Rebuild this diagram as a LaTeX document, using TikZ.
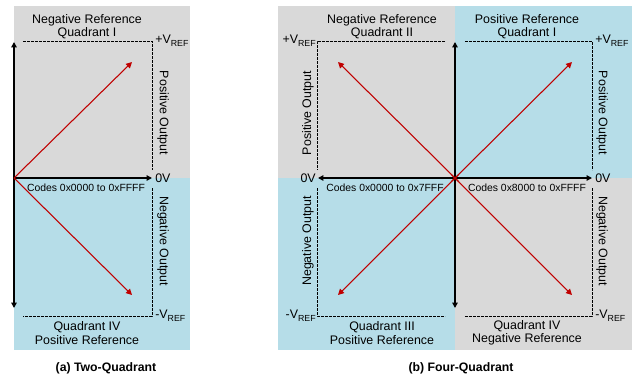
\documentclass[tikz,border=0pt]{standalone}
\usepackage{fontspec}
\setmainfont{Liberation Sans}
\usepackage{tikz}
\usetikzlibrary{positioning,arrows.meta,calc}
\usepackage{xcolor}
\definecolor{quadgray}{HTML}{D9D9D9}
\definecolor{quadblue}{HTML}{B6DDE8}
\definecolor{rampred}{HTML}{C00000}
\newcommand{\Vref}[1]{#1V\raisebox{-0.45ex}{\fontsize{6.6}{7}\selectfont REF}}

\begin{document}
\begin{tikzpicture}[
  x=0.75pt,y=-0.75pt,
  >=Triangle,
  every node/.style={font=\fontsize{9.3}{10}\selectfont,align=center,inner sep=0pt},
  axis/.style={<->,line width=1pt,arrows={Triangle[length=4pt,width=4pt]-Triangle[length=4pt,width=4pt]}},
  halfaxis/.style={-{Triangle[length=4pt,width=4pt]},line width=1pt},
  ramp/.style={-{Triangle[length=4.5pt,width=4.5pt]},rampred,line width=0.8pt},
  limit/.style={line width=0.75pt,dash pattern=on 2.2pt off 0.8pt},
  codes/.style={font=\fontsize{7.8}{8}\selectfont},
  caption/.style={font=\bfseries\fontsize{9.2}{10}\selectfont}
]
\useasboundingbox (0,0) rectangle (640,380);

% (a) two-quadrant
\fill[quadgray] (14,6) rectangle (190,178);
\fill[quadblue] (14,178) rectangle (190,350);
\coordinate (oa) at (14,178);
\coordinate (atop) at (14,42);
\coordinate (abot) at (14,308);
\coordinate (aright) at (152,178);
\draw[limit] (23,41) -- (152,41) -- (152,170);
\draw[limit] (152,188) -- (152,316) -- (23,316);
\draw[halfaxis] (oa) -- (atop);
\draw[halfaxis] (oa) -- (abot);
\draw[halfaxis] (oa) -- (aright);
\coordinate (aup) at (132,62);
\coordinate (adown) at (132,295);
\draw[ramp] (oa) -- (aup);
\draw[ramp] (oa) -- (adown);
\node (atitle) at (87,27) {Negative Reference\\Quadrant I};
\node[anchor=west] (avp) at (155,41) {\Vref{+}};
\node[anchor=west] (a0v) at (155,178) {0V};
\node[anchor=west] (avn) at (155,316) {\Vref{-}};
\node[rotate=-90] (apos) at (163,113) {Positive Output};
\node[rotate=-90] (aneg) at (163,241) {Negative Output};
\node[codes] (acodes) at (86,188) {Codes 0x0000 to 0xFFFF};
\node (abottom) at (87,333) {Quadrant IV\\Positive Reference};
\node[caption] (acap) at (106,368) {(a) Two-Quadrant};

% (b) four-quadrant
\fill[quadgray] (278,6) rectangle (455,178);
\fill[quadblue] (455,6) rectangle (632,178);
\fill[quadblue] (278,178) rectangle (455,350);
\fill[quadgray] (455,178) rectangle (632,350);
\coordinate (ob) at (455,178);
\coordinate (btop) at (455,42);
\coordinate (bbot) at (455,308);
\coordinate (bleft) at (318,178);
\coordinate (bright) at (592,178);
\draw[limit] (445,41) -- (317,41) -- (317,170);
\draw[limit] (465,41) -- (592,41) -- (592,170);
\draw[limit] (317,188) -- (317,316) -- (445,316);
\draw[limit] (592,188) -- (592,316) -- (465,316);
\draw[axis] (btop) -- (bbot);
\draw[axis] (bleft) -- (bright);
\coordinate (bq1) at (572,62);
\coordinate (bq2) at (338,62);
\coordinate (bq3) at (338,295);
\coordinate (bq4) at (572,295);
\foreach \q in {bq1,bq2,bq3,bq4}
  \draw[ramp,shorten <=-4pt] (ob) -- (\q);
\node (btitle2) at (382,27) {Negative Reference\\Quadrant II};
\node (btitle1) at (527,27) {Positive Reference\\Quadrant I};
\node[anchor=east] (bvpl) at (316,41) {\Vref{+}};
\node[anchor=west] (bvpr) at (595,41) {\Vref{+}};
\node[anchor=east] (b0vl) at (316,178) {0V};
\node[anchor=west] (b0vr) at (595,178) {0V};
\node[anchor=east] (bvnl) at (316,316) {\Vref{-}};
\node[anchor=west] (bvnr) at (595,316) {\Vref{-}};
\node[rotate=90] (bposl) at (308,113) {Positive Output};
\node[rotate=-90] (bposr) at (602,113) {Positive Output};
\node[rotate=90] (bnegl) at (308,241) {Negative Output};
\node[rotate=-90] (bnegr) at (602,241) {Negative Output};
\node[codes] (bcodesl) at (385,188) {Codes 0x0000 to 0x7FFF};
\node[codes] (bcodesr) at (527,188) {Codes 0x8000 to 0xFFFF};
\node (bbottom3) at (382,333) {Quadrant III\\Positive Reference};
\node (bbottom4) at (527,333) {Quadrant IV\\Negative Reference};
\node[caption] (bcap) at (461,368) {(b) Four-Quadrant};
\end{tikzpicture}
\end{document}
